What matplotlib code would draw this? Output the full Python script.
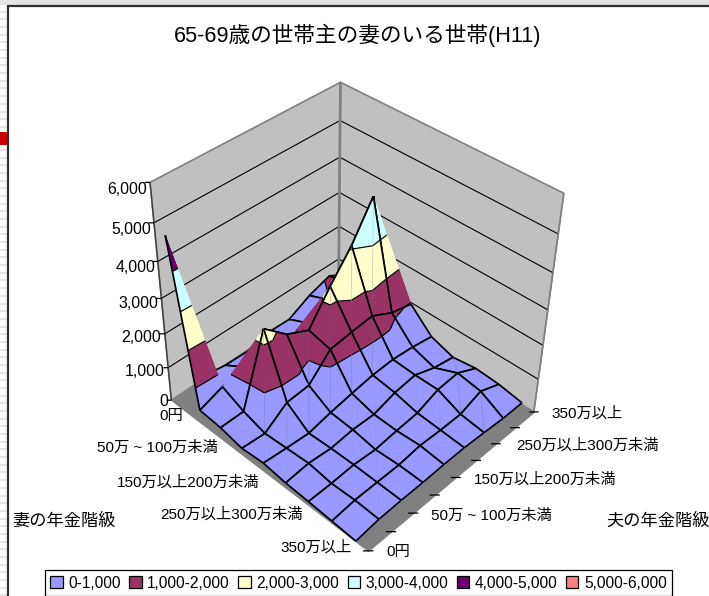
import numpy as np
import matplotlib
matplotlib.use('Agg')
import matplotlib.pyplot as plt
from matplotlib.patches import Rectangle, Patch
from mpl_toolkits.mplot3d.art3d import Poly3DCollection, Line3DCollection

FONT = ['Liberation Sans', 'Noto Sans CJK JP', 'DejaVu Sans']
plt.rcParams['font.family'] = FONT

TITLE = '65-69歳の世帯主の妻のいる世帯(H11)'
WIFE_TITLE = '妻の年金階級'
HUSBAND_TITLE = '夫の年金階級'
Z_TICKS = [0, 1000, 2000, 3000, 4000, 5000, 6000]
WIFE_LABELS = ['0円', '50万 ~ 100万未満', '150万以上200万未満', '250万以上300万未満', '350万以上']
HUSBAND_LABELS = ['0円', '50万 ~ 100万未満', '150万以上200万未満', '250万以上300万未満', '350万以上']
BAND_LABELS = ['0-1,000', '1,000-2,000', '2,000-3,000', '3,000-4,000', '4,000-5,000', '5,000-6,000']
BAND_COLORS = ['#9999FF', '#993366', '#FFFFCC', '#CCFFFF', '#660066', '#FF8080']

# rows: wife class (0円 ... 350万以上); columns: husband class (0円 ... 350万以上)
wife_0 = [4860, 500, 390, 370, 530, 510, 840, 1050, 700]
wife_1 = [390, 630, 770, 650, 700, 800, 1100, 1200, 900]
wife_2 = [330, 340, 2330, 1740, 1430, 2300, 3080, 4080, 1000]
wife_3 = [190, 140, 600, 650, 1280, 1360, 1420, 1100, 950]
wife_4 = [240, 180, 135, 280, 390, 490, 520, 460, 350]
wife_5 = [150, 220, 160, 230, 210, 400, 480, 250, 130]
wife_6 = [110, 120, 160, 110, 185, 240, 480, 530, 220]
wife_7 = [60, 140, 140, 140, 220, 190, 190, 420, 170]
wife_8 = [10, 100, 120, 120, 140, 140, 100, 50, 50]
Z = np.array([wife_0, wife_1, wife_2, wife_3, wife_4, wife_5, wife_6, wife_7, wife_8], float)

W, H = 709, 596
fig = plt.figure(figsize=(W / 100, H / 100), dpi=100, facecolor='white')

def fx(p): return p / W
def fy(p): return 1 - p / H

def frect(x0, y0, x1, y1, **kw):
    fig.add_artist(Rectangle((fx(x0), fy(y1)), (x1 - x0) / W, (y1 - y0) / H,
                             transform=fig.transFigure, zorder=-5, **kw))

# sheet remnants around the chart frame
frect(0, 0, W, 4.5, fc='#E2E2E2', ec='none')
for i in range(1, 78):
    frect(0, 4 + 7.68 * i - 1, 8, 4 + 7.68 * i + 1, fc='#E4E4E4', ec='none')
frect(0, 132, 8, 145, fc='#CC0000', ec='none')
frect(8, 5.5, W + 5, H + 5, fc='white', ec='#303030', lw=1.6)

# 3D axes
S = 571.4
ax = fig.add_axes([29.6 / W, 75.6 / H, S / W, S / H], projection='3d', computed_zorder=False)
ax.set_axis_off()
ax.patch.set_visible(False)
XC, YC, ZC = 3.345, 5.19, 5028
ax.set_xlim(XC - 5, XC + 5)
ax.set_ylim(YC - 5, YC + 5)
ax.set_zlim(ZC - 3500, ZC + 3500)
ax.set_box_aspect((.3288, .3259, .3383))
ax.view_init(elev=36.9, azim=-135.5)
ax.set_proj_type('persp', focal_length=.419)

XMAX, YMAX, ZMAX = 8, 9, Z_TICKS[-1]
nk, nx = Z.shape
def ypos(k): return YMAX - .5 - k

def add(art):
    ax.add_collection3d(art)
    art.set_clip_on(False)

# floor and walls
add(Poly3DCollection([[(0, 0, 0), (XMAX, 0, 0), (XMAX, YMAX, 0), (0, YMAX, 0)]],
                     facecolors='#808080', edgecolors='#808080', lw=.8, zorder=1))
add(Poly3DCollection([[(0, YMAX, 0), (XMAX, YMAX, 0), (XMAX, YMAX, ZMAX), (0, YMAX, ZMAX)],
                      [(XMAX, 0, 0), (XMAX, YMAX, 0), (XMAX, YMAX, ZMAX), (XMAX, 0, ZMAX)]],
                     facecolors='#C0C0C0', edgecolors='#808080', lw=1.2, zorder=2))
grid = []
for t in Z_TICKS[1:-1]:
    grid.append([(0, YMAX, t), (XMAX, YMAX, t)])
    grid.append([(XMAX, YMAX, t), (XMAX, 0, t)])
add(Line3DCollection(grid, colors='black', lw=.8, zorder=3))
add(Line3DCollection([[(XMAX, YMAX, 0), (XMAX, YMAX, ZMAX)]], colors='#808080', lw=2, zorder=3))
add(Line3DCollection([[(0, YMAX, 0), (0, YMAX, ZMAX)], [(XMAX, 0, 0), (XMAX, 0, ZMAX)]],
                     colors=['#404040', '#808080'], lw=1, zorder=3))
# axis ticks
ticks = []
d = .11
for x in range(XMAX + 1):
    ticks.append([(x + d, -d, 0), (x - d, d, 0)])
for t in Z_TICKS:
    ticks.append([(-d, YMAX + d, t), (0, YMAX, t)])
add(Line3DCollection(ticks, colors='black', lw=.9, zorder=4))

# surface helpers
def clip(poly, lo, hi):
    for sign, lim in ((1, lo), (-1, hi)):
        out = []
        for i in range(len(poly)):
            p, q = poly[i], poly[(i + 1) % len(poly)]
            fa, fb = sign * (p[2] - lim), sign * (q[2] - lim)
            if fa >= 0:
                out.append(p)
            if fa * fb < 0:
                t = fa / (fa - fb)
                out.append(tuple(p[j] + t * (q[j] - p[j]) for j in range(3)))
        poly = out
        if not poly:
            return []
    return poly

def iso(tri, lev):
    pts = []
    for i in range(3):
        p, q = tri[i], tri[(i + 1) % 3]
        if (p[2] - lev) * (q[2] - lev) < 0:
            t = (lev - p[2]) / (q[2] - p[2])
            pts.append(tuple(p[j] + t * (q[j] - p[j]) for j in range(3)))
    return pts if len(pts) == 2 else None

# painter's order: far cells first; each cell is split along its steeper diagonal
zo = 10
levels = Z_TICKS
cells = sorted(((k, x) for k in range(nk - 1) for x in range(nx - 1)),
               key=lambda c: (c[1] + (YMAX - c[0])), reverse=True)
for k, x in cells:
    y0, y1 = ypos(k), ypos(k + 1)
    a = (x, y0, Z[k, x])              # left
    b = (x + 1, y0, Z[k, x + 1])      # far
    c = (x + 1, y1, Z[k + 1, x + 1])  # right
    e = (x, y1, Z[k + 1, x])          # near
    if abs(a[2] - c[2]) >= abs(b[2] - e[2]):
        parts = [([a, b, c], [[a, b], [b, c]]), ([a, c, e], [[c, e], [e, a]])]
    else:
        parts = [([a, b, e], [[a, b], [e, a]]), ([b, c, e], [[b, c], [c, e]])]
        if abs(b[2] - e[2]) > 300:
            add(Line3DCollection([[b, e]], colors='#606080', lw=.4, alpha=.3, zorder=zo + .9))
    for tri, edges in parts:
        polys, cols, isos = [], [], []
        for i in range(len(levels) - 1):
            p = clip(tri, levels[i], levels[i + 1])
            if len(p) >= 3:
                polys.append(p)
                cols.append(BAND_COLORS[i])
        for lev in levels[1:-1]:
            seg = iso(tri, lev)
            if seg:
                isos.append(seg)
        add(Poly3DCollection(polys, facecolors=cols, edgecolors=cols, lw=.3, zorder=zo))
        if isos:
            add(Line3DCollection(isos, colors='black', lw=.85, zorder=zo + .1))
        add(Line3DCollection(edges, colors='black', lw=1.25, zorder=zo + .2))
        zo += .3
    zo += 1

# texts
fig.text(fx(358), fy(35), TITLE, fontsize=15.6, ha='center', va='center', color='black')
for t, xr, yc in zip(Z_TICKS, [168, 165, 161, 158, 155, 151, 147], [402, 371, 338, 303, 267, 229, 190]):
    fig.text(fx(xr), fy(yc), f'{t:,}', fontsize=11.4, ha='right', va='center')
for s, xr, yc in zip(WIFE_LABELS, [183, 218, 259, 303, 352], [416, 448, 483, 515, 548]):
    fig.text(fx(xr), fy(yc), s, fontsize=11, ha='right', va='center')
for s, xl, yc in zip(HUSBAND_LABELS, [386, 431, 474, 516, 551], [552, 516, 480, 446, 414]):
    fig.text(fx(xl), fy(yc), s, fontsize=11, ha='left', va='center')
fig.text(fx(12), fy(521), WIFE_TITLE, fontsize=12.4, ha='left', va='center')
fig.text(fx(606), fy(521), HUSBAND_TITLE, fontsize=12.4, ha='left', va='center')

handles = [Patch(facecolor=c, edgecolor='black', lw=.9) for c in BAND_COLORS]
leg = fig.legend(handles, BAND_LABELS, ncol=6, loc='lower left',
                 bbox_to_anchor=(fx(45), fy(596)), bbox_transform=fig.transFigure,
                 fontsize=11.2, frameon=True, fancybox=False, edgecolor='black', framealpha=1,
                 handlelength=.8, handleheight=.8, handletextpad=.35, columnspacing=.55,
                 borderpad=.35, borderaxespad=0)
leg.get_frame().set_linewidth(.9)

fig.savefig('out.png', dpi=100)
